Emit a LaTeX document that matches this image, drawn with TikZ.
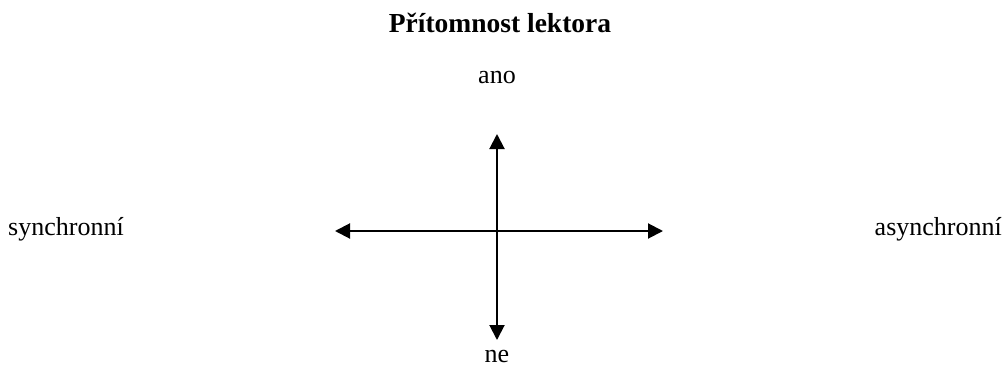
\documentclass[tikz,border=0pt]{standalone}
\usepackage{fontspec}
\setmainfont{Liberation Serif}
\usetikzlibrary{arrows.meta}
\begin{document}
\begin{tikzpicture}[x=1pt,y=-1pt,
  lbl/.style={inner sep=0pt,font=\fontsize{26}{30}\selectfont},
  axis/.style={line width=2pt,{Triangle[length=15pt,width=15pt]}-{Triangle[length=15pt,width=15pt]}}]
\useasboundingbox (0,0) rectangle (1004,369);
\node[lbl,font=\fontsize{27.5}{32}\selectfont\bfseries,anchor=base] (title) at (500,33) {Přítomnost lektora};
\node[lbl,anchor=base] (ano) at (497,84) {ano};
\node[lbl,anchor=base] (ne) at (497,362) {ne};
\node[lbl,anchor=base west] (syn) at (8,235) {synchronní};
\node[lbl,anchor=base east] (asyn) at (1002,235) {asynchronní};
\coordinate (top) at (497,134);
\coordinate (bot) at (497,340);
\coordinate (lft) at (335,231);
\coordinate (rgt) at (663,231);
\draw[axis] (top) -- (bot);
\draw[axis] (lft) -- (rgt);
\end{tikzpicture}
\end{document}
